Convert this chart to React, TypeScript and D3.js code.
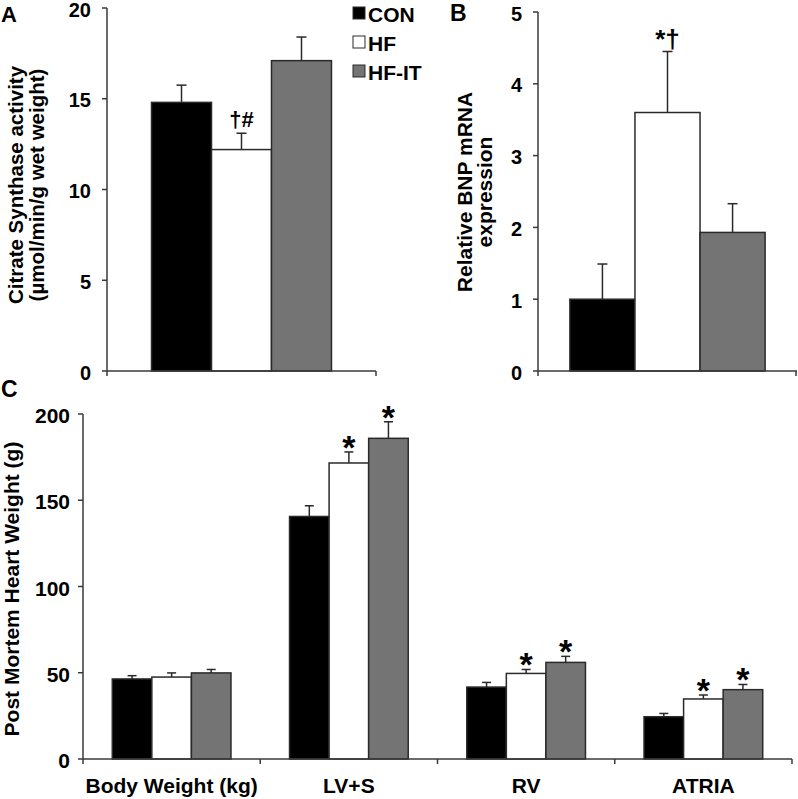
import React from 'react';
import * as d3 from 'd3';

// groups / legend
const groups = ['CON', 'HF', 'HF-IT'];
const groupFill: Record<string, string> = { CON: '#000000', HF: '#ffffff', 'HF-IT': '#747474' };

// panel A: citrate synthase
const csMean = [14.8, 12.2, 17.1];
const csErr = [0.95, 0.9, 1.3];
const csTicks = [0, 5, 10, 15, 20];

// panel B: BNP mRNA
const bnpMean = [1.0, 3.6, 1.93];
const bnpErr = [0.49, 0.85, 0.4];
const bnpTicks = [0, 1, 2, 3, 4, 5];

// panel C: post mortem heart weight
const hwCategories = ['Body Weight (kg)', 'LV+S', 'RV', 'ATRIA'];
const hwCON = [46.4, 140.6, 41.7, 24.5];
const hwHF = [47.5, 171.6, 49.6, 34.8];
const hwHFIT = [49.9, 185.9, 56.0, 40.2];
const hwCONerr = [1.9, 6.2, 2.7, 1.9];
const hwHFerr = [2.4, 6.4, 2.3, 2.3];
const hwHFITerr = [2.0, 9.6, 3.5, 3.0];
const hwStars = [[false, false, false], [false, true, true], [false, true, true], [false, true, true]];
const hwTicks = [0, 50, 100, 150, 200];

const FONT = '"Liberation Sans", Arial, sans-serif';
const AXIS = '#3a3a3a';

const YAxis = ({ scale, x, ticks, fontSize, gap }: any) => (
  <g>
    <line x1={x} x2={x} y1={scale(ticks[ticks.length - 1])} y2={scale(0)} stroke={AXIS} strokeWidth={1.5} />
    {ticks.map((t: number) => (
      <g key={t}>
        <line x1={x - 5} x2={x} y1={scale(t)} y2={scale(t)} stroke={AXIS} strokeWidth={1.5} />
        <text x={x - gap} y={scale(t) + 1.5} textAnchor="end" dominantBaseline="central" fontSize={fontSize} fontWeight="bold">{t}</text>
      </g>
    ))}
  </g>
);

const Bar = ({ x, w, y0, y, fill }: any) => (
  <rect x={x} y={y} width={w} height={y0 - y} fill={fill} stroke="#2a2a2a" strokeWidth={1.5} />
);

const ErrUp = ({ cx, yTop, yBar, cap }: any) => (
  <g stroke="#2a2a2a" strokeWidth={1.5}>
    <line x1={cx} x2={cx} y1={yBar} y2={yTop} />
    <line x1={cx - cap / 2} x2={cx + cap / 2} y1={yTop} y2={yTop} />
  </g>
);

export default function App() {
  // ---- panel A
  const aX0 = 107, aX1 = 376, aY0 = 371, aY1 = 8;
  const ay = d3.scaleLinear().domain([0, 20]).range([aY0, aY1]);
  const ax = d3.scaleBand().domain(groups).range([aX0, aX1]).paddingInner(0).paddingOuter(0.742);

  // ---- panel B
  const bX0 = 538, bX1 = 797, bY0 = 371, bY1 = 12;
  const by = d3.scaleLinear().domain([0, 5]).range([bY0, bY1]);
  const bx = d3.scaleBand().domain(groups).range([bX0, bX1]).paddingInner(0).paddingOuter(0.49);

  // ---- panel C
  const cX0 = 83, cX1 = 792, cY0 = 759, cY1 = 414;
  const cy = d3.scaleLinear().domain([0, 200]).range([cY0, cY1]);
  const cx = d3.scaleBand().domain(hwCategories).range([cX0, cX1]).padding(0);
  const cxInner = d3.scaleBand().domain(groups).range([0, cx.bandwidth()]).paddingInner(0).paddingOuter(0.74);
  const hwSeries = [hwCON, hwHF, hwHFIT];
  const hwErrs = [hwCONerr, hwHFerr, hwHFITerr];

  return (
    <svg width={798} height={799} style={{ position: 'absolute', left: 0, top: 0, background: '#fff' }} fontFamily={FONT}>
      {/* Panel A */}
      <text x={1} y={22} fontSize={22} fontWeight="bold">A</text>
      <g transform="translate(23,185) rotate(-90)" fontSize={20.5} fontWeight="bold" textAnchor="middle">
        <text x={0} y={0}>Citrate Synthase activity</text>
        <text x={0} y={21}>(µmol/min/g wet weight)</text>
      </g>
      {groups.map((g, i) => (
        <Bar key={g} x={ax(g)} w={ax.bandwidth()} y0={aY0} y={ay(csMean[i])} fill={groupFill[g]} />
      ))}
      {groups.map((g, i) => (
        <ErrUp key={g} cx={(ax(g) as number) + ax.bandwidth() / 2} yBar={ay(csMean[i])} yTop={ay(csMean[i] + csErr[i])} cap={10} />
      ))}
      <text x={(ax('HF') as number) + ax.bandwidth() / 2} y={ay(csMean[1] + csErr[1]) - 6} textAnchor="middle" fontSize={22} fontWeight="bold">†#</text>
      <YAxis scale={ay} x={aX0} ticks={csTicks} fontSize={20} gap={16} />
      <line x1={aX0} x2={aX1} y1={aY0} y2={aY0} stroke={AXIS} strokeWidth={1.5} />
      <line x1={aX0} x2={aX0} y1={aY0} y2={aY0 + 5} stroke={AXIS} strokeWidth={1.5} />
      <line x1={aX1} x2={aX1} y1={aY0} y2={aY0 + 5} stroke={AXIS} strokeWidth={1.5} />

      {/* legend */}
      {groups.map((g, i) => (
        <g key={g}>
          <rect x={353} y={[13, 42, 71][i] - 6} width={12} height={12} fill={groupFill[g]} stroke="#2a2a2a" strokeWidth={1} />
          <text x={368} y={[14, 43, 72][i]} dominantBaseline="central" fontSize={21} fontWeight="bold">{g}</text>
        </g>
      ))}

      {/* Panel B */}
      <text x={450} y={21} fontSize={23} fontWeight="bold">B</text>
      <g transform="translate(472,192) rotate(-90)" fontSize={21} fontWeight="bold" textAnchor="middle">
        <text x={0} y={0}>Relative BNP mRNA</text>
        <text x={0} y={20}>expression</text>
      </g>
      {groups.map((g, i) => (
        <Bar key={g} x={bx(g)} w={bx.bandwidth()} y0={bY0} y={by(bnpMean[i])} fill={groupFill[g]} />
      ))}
      {groups.map((g, i) => (
        <ErrUp key={g} cx={(bx(g) as number) + bx.bandwidth() / 2} yBar={by(bnpMean[i])} yTop={by(bnpMean[i] + bnpErr[i])} cap={10} />
      ))}
      <text x={(bx('HF') as number) + bx.bandwidth() / 2} y={by(bnpMean[1] + bnpErr[1]) - 3} textAnchor="middle" fontSize={26} fontWeight="bold">*†</text>
      <YAxis scale={by} x={bX0} ticks={bnpTicks} fontSize={20} gap={16} />
      <line x1={bX0} x2={bX1} y1={bY0} y2={bY0} stroke={AXIS} strokeWidth={1.5} />
      <line x1={bX0} x2={bX0} y1={bY0} y2={bY0 + 5} stroke={AXIS} strokeWidth={1.5} />
      <line x1={bX1 - 1} x2={bX1 - 1} y1={bY0} y2={bY0 + 5} stroke={AXIS} strokeWidth={1.5} />

      {/* Panel C */}
      <text x={1} y={397} fontSize={23} fontWeight="bold">C</text>
      <g transform="translate(19,589) rotate(-90)" fontSize={21} fontWeight="bold" textAnchor="middle">
        <text x={0} y={0}>Post Mortem Heart Weight (g)</text>
      </g>
      {hwCategories.map((c, ci) => (
        <g key={c} transform={`translate(${cx(c)},0)`}>
          {groups.map((g, gi) => {
            const v = hwSeries[gi][ci];
            const e = hwErrs[gi][ci];
            const bxp = cxInner(g) as number;
            const mid = bxp + cxInner.bandwidth() / 2;
            return (
              <g key={g}>
                <Bar x={bxp} w={cxInner.bandwidth()} y0={cY0} y={cy(v)} fill={groupFill[g]} />
                <ErrUp cx={mid} yBar={cy(v)} yTop={cy(v + e)} cap={9} />
                {hwStars[ci][gi] && (
                  <text x={mid} y={cy(v + e) + 7} textAnchor="middle" fontSize={34} fontWeight="bold">*</text>
                )}
              </g>
            );
          })}
          <text x={cx.bandwidth() / 2} y={793} textAnchor="middle" fontSize={21} fontWeight="bold">{c}</text>
        </g>
      ))}
      <YAxis scale={cy} x={cX0} ticks={hwTicks} fontSize={21} gap={13} />
      <line x1={cX0} x2={cX1} y1={cY0} y2={cY0} stroke={AXIS} strokeWidth={1.5} />
      {[...hwCategories.map(c => cx(c) as number), cX1].map((t, i) => (
        <line key={i} x1={t} x2={t} y1={cY0} y2={cY0 + 5} stroke={AXIS} strokeWidth={1.5} />
      ))}
    </svg>
  );
}
